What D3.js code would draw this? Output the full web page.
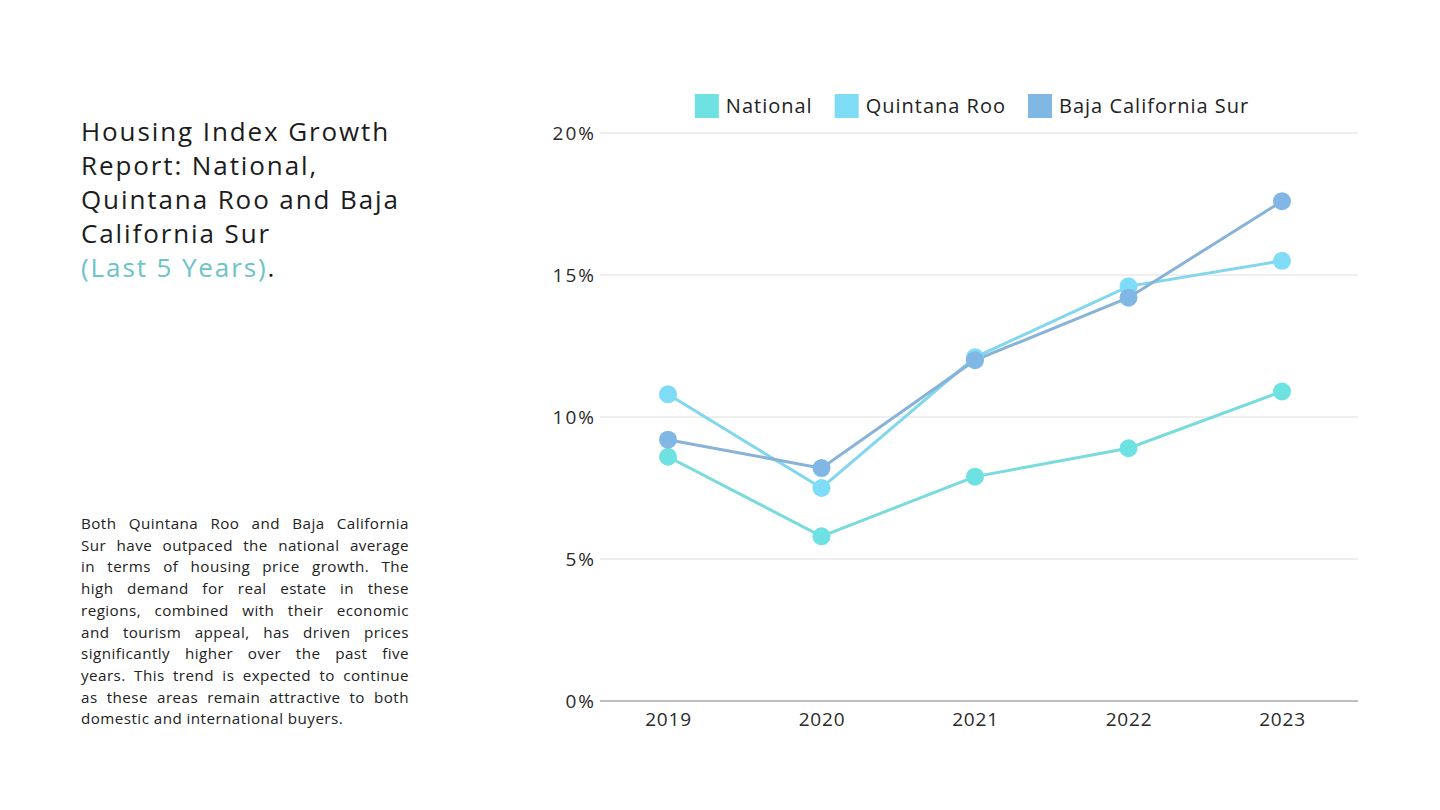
<!DOCTYPE html>
<html>
<head>
<meta charset="utf-8">
<script src="https://cdn.jsdelivr.net/npm/d3@7"></script>
<style>
  html, body { margin: 0; padding: 0; background: #ffffff; }
  body { width: 1440px; height: 810px; position: relative; overflow: hidden; font-family: "Open Sans", "DejaVu Sans", sans-serif; }
  #title { position: absolute; left: 81px; top: 114px; font-size: 26px; line-height: 34px; color: #1c1c1c; letter-spacing: 1.9px; font-weight: 400; }
  #title .sub { color: #6cc3c9; }
  #para { position: absolute; left: 81px; top: 513px; width: 328px; font-size: 15.2px; line-height: 21.7px; color: #222; letter-spacing: 0.45px; }
  #para span { display: block; text-align: justify; text-align-last: justify; white-space: nowrap; }
  #para span.last { text-align-last: left; }
  svg { position: absolute; left: 0; top: 0; }
</style>
</head>
<body>
<div id="title"></div>
<div id="para"></div>
<svg id="chart" width="1440" height="810"></svg>
<script>
const titleLines = ["Housing Index Growth", "Report: National,", "Quintana Roo and Baja", "California Sur"];
const subtitle = "(Last 5 Years)";
const paraLines = [
  "Both Quintana Roo and Baja California",
  "Sur have outpaced the national average",
  "in terms of housing price growth. The",
  "high demand for real estate in these",
  "regions, combined with their economic",
  "and tourism appeal, has driven prices",
  "significantly higher over the past five",
  "years. This trend is expected to continue",
  "as these areas remain attractive to both",
  "domestic and international buyers."
];

const years = ["2019", "2020", "2021", "2022", "2023"];
const seriesNames = ["National", "Quintana Roo", "Baja California Sur"];
const nationalValues = [8.6, 5.8, 7.9, 8.9, 10.9];
const quintanaRooValues = [10.8, 7.5, 12.1, 14.6, 15.5];
const bajaCaliforniaSurValues = [9.2, 8.2, 12.0, 14.2, 17.6];
const yTicks = [0, 5, 10, 15, 20];

const markerColors = ["#6ee2e2", "#7edcf6", "#80b7e4"];
const lineColors = ["#78dbdd", "#82d6ee", "#87b3d8"];

(function () {
// Text blocks
const t = d3.select("#title");
titleLines.forEach(l => t.append("div").text(l));
const sl = t.append("div");
sl.append("span").attr("class", "sub").text(subtitle);
sl.append("span").text(".");

const p = d3.select("#para");
paraLines.forEach((l, i) => p.append("span").attr("class", i === paraLines.length - 1 ? "last" : null).text(l));

// Chart
const svg = d3.select("#chart");
const pLeft = 600, pRight = 1358, pTop = 133, pBottom = 701;

const x = d3.scalePoint().domain(years).range([668, 1282]);
const y = d3.scaleLinear().domain([0, 20]).range([pBottom, pTop]);

// grid
svg.append("g").selectAll("line").data(yTicks.filter(d => d !== 0)).join("line")
  .attr("x1", pLeft).attr("x2", pRight)
  .attr("y1", d => y(d)).attr("y2", d => y(d))
  .attr("stroke", "#dedede").attr("stroke-width", 1);

// y axis labels
const yAxis = svg.append("g").attr("transform", `translate(${pLeft - 4},0)`)
  .call(d3.axisLeft(y).tickValues(yTicks).tickSize(0).tickPadding(0).tickFormat(d => d + "%"));
yAxis.select(".domain").remove();
yAxis.selectAll("text").attr("font-family", "'Open Sans', sans-serif").attr("font-size", 19).attr("fill", "#2a2a2a").attr("letter-spacing", 2);

// x axis
const xAxis = svg.append("g").attr("transform", `translate(0,${pBottom})`)
  .call(d3.axisBottom(x).tickSize(0).tickPadding(12));
xAxis.select(".domain").remove();
xAxis.selectAll("text").attr("font-family", "'Open Sans', sans-serif").attr("font-size", 19).attr("fill", "#2a2a2a").attr("letter-spacing", 0.8);
svg.append("line").attr("x1", pLeft).attr("x2", pRight).attr("y1", pBottom).attr("y2", pBottom)
  .attr("stroke", "#a8a8a8").attr("stroke-width", 1.3);

// series
const series = [nationalValues, quintanaRooValues, bajaCaliforniaSurValues].map((vals, i) => ({
  name: seriesNames[i],
  values: vals.map((v, j) => ({ year: years[j], v }))
}));

const line = d3.line().x(d => x(d.year)).y(d => y(d.v));
const g = svg.append("g");
series.forEach((s, i) => {
  g.append("path").datum(s.values).attr("d", line)
    .attr("fill", "none").attr("stroke", lineColors[i]).attr("stroke-width", 3);
});
series.forEach((s, i) => {
  g.append("g").selectAll("circle").data(s.values).join("circle")
    .attr("cx", d => x(d.year)).attr("cy", d => y(d.v)).attr("r", 9)
    .attr("fill", markerColors[i]);
});

// legend
const legend = svg.append("g");
let cx = 0;
seriesNames.forEach((n, i) => {
  const it = legend.append("g");
  it.append("rect").attr("x", 0).attr("y", -12).attr("width", 24).attr("height", 24).attr("fill", markerColors[i]);
  const tx = it.append("text").attr("x", 31).attr("y", 0).attr("dy", "0.35em")
    .attr("font-family", "'Open Sans', sans-serif").attr("font-size", 20).attr("fill", "#222").attr("letter-spacing", 1).text(n);
  const w = 31 + tx.node().getComputedTextLength();
  it.attr("transform", `translate(${cx},0)`);
  cx += w + 22;
});
const totalW = cx - 22;
legend.attr("transform", `translate(${972 - totalW / 2},106)`);
})();
</script>
</body>
</html>
